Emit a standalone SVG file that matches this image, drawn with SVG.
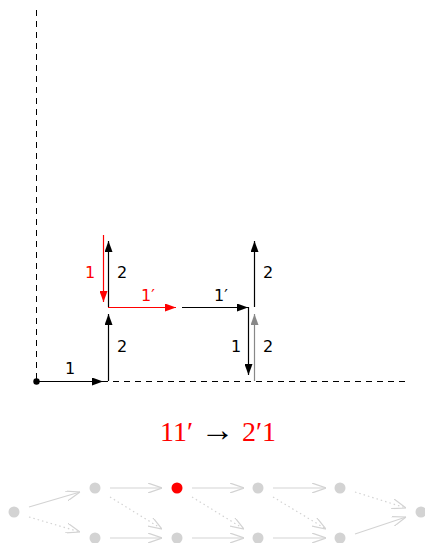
<svg xmlns="http://www.w3.org/2000/svg" width="425" height="543" viewBox="0 0 425 543">
<style>
.lbl{font-family:"DejaVu Sans","Liberation Sans",sans-serif;font-size:16px;text-anchor:middle}
.fm{font-family:"Liberation Serif","DejaVu Serif",serif;font-size:28px}
.ax{stroke:#000;stroke-width:1;stroke-dasharray:6,5;fill:none}
.e{stroke-width:1.2;fill:none}
.g{stroke:#d3d3d3;stroke-width:1.2;fill:none}
.gd{stroke:#d3d3d3;stroke-width:1.2;fill:none;stroke-dasharray:1.5,3}
.n{fill:#d3d3d3}
</style>
<defs>
<marker id="ab" viewBox="0 0 11 8" refX="11" refY="4" markerWidth="11" markerHeight="8" markerUnits="userSpaceOnUse" orient="auto"><path d="M0,0 L11,4 L0,8 z" fill="#000"/></marker>
<marker id="ar" viewBox="0 0 11 8" refX="11" refY="4" markerWidth="11" markerHeight="8" markerUnits="userSpaceOnUse" orient="auto"><path d="M0,0 L11,4 L0,8 z" fill="#f00"/></marker>
<marker id="ag" viewBox="0 0 11 8" refX="11" refY="4" markerWidth="11" markerHeight="8" markerUnits="userSpaceOnUse" orient="auto"><path d="M0,0 L11,4 L0,8 z" fill="#888"/></marker>
<marker id="ao" viewBox="0 0 14 10" refX="14" refY="5" markerWidth="14" markerHeight="10" markerUnits="userSpaceOnUse" orient="auto"><path d="M0,0 L14,5 L0,10" fill="none" stroke="#d3d3d3" stroke-width="1.2"/></marker>
</defs>
<g id="axes">
<line class="ax" x1="36.5" y1="10" x2="36.5" y2="381"/>
<line class="ax" x1="36" y1="381.5" x2="408" y2="381.5"/>
<circle cx="36.5" cy="381.5" r="3.2" fill="#000"/>
</g>
<g id="connectors">
<line class="e" stroke="#000" x1="36" y1="381.5" x2="103" y2="381.5" marker-end="url(#ab)"/>
<line class="e" stroke="#000" x1="108.5" y1="381" x2="108.5" y2="314" marker-end="url(#ab)"/>
<line class="e" stroke="#000" x1="108.5" y1="307" x2="108.5" y2="241" marker-end="url(#ab)"/>
<line class="e" stroke="#f00" x1="103.5" y1="235" x2="103.5" y2="302" marker-end="url(#ar)"/>
<line class="e" stroke="#f00" x1="108" y1="307.5" x2="176" y2="307.5" marker-end="url(#ar)"/>
<line class="e" stroke="#000" x1="182" y1="307.5" x2="248" y2="307.5" marker-end="url(#ab)"/>
<line class="e" stroke="#000" x1="248.5" y1="307" x2="248.5" y2="375" marker-end="url(#ab)"/>
<line class="e" stroke="#888" x1="254.5" y1="381" x2="254.5" y2="314" marker-end="url(#ag)"/>
<line class="e" stroke="#000" x1="254.5" y1="307" x2="254.5" y2="241" marker-end="url(#ab)"/>
</g>
<g id="labels">
<text class="lbl" x="70" y="374">1</text>
<text class="lbl" x="122" y="352">2</text>
<text class="lbl" x="122" y="278">2</text>
<text class="lbl" x="90" y="278" fill="#f00">1</text>
<text class="lbl" x="148" y="301" fill="#f00">1′</text>
<text class="lbl" x="221" y="301">1′</text>
<text class="lbl" x="236" y="352">1</text>
<text class="lbl" x="268" y="352">2</text>
<text class="lbl" x="268" y="278">2</text>
</g>
<g id="formula">
<text class="fm" x="160" y="441" fill="#f00">11′</text>
<text x="217.5" y="441" font-family="'Liberation Serif','DejaVu Serif',serif" font-size="34" text-anchor="middle" fill="#000">→</text>
<text class="fm" x="276" y="441" fill="#f00" text-anchor="end">2′1</text>
</g>
<g id="graph-edges">
<line class="g" x1="29" y1="507" x2="80" y2="492" marker-end="url(#ao)"/>
<line class="gd" x1="29" y1="517" x2="80" y2="532" marker-end="url(#ao)"/>
<line class="g" x1="110" y1="488" x2="162" y2="488" marker-end="url(#ao)"/>
<line class="gd" x1="110" y1="497" x2="162" y2="529" marker-end="url(#ao)"/>
<line class="g" x1="110" y1="538" x2="162" y2="538" marker-end="url(#ao)"/>
<line class="g" x1="192" y1="488" x2="244" y2="488" marker-end="url(#ao)"/>
<line class="gd" x1="192" y1="497" x2="244" y2="529" marker-end="url(#ao)"/>
<line class="g" x1="192" y1="538" x2="244" y2="538" marker-end="url(#ao)"/>
<line class="g" x1="273" y1="488" x2="326" y2="488" marker-end="url(#ao)"/>
<line class="gd" x1="273" y1="497" x2="326" y2="529" marker-end="url(#ao)"/>
<line class="g" x1="273" y1="538" x2="326" y2="538" marker-end="url(#ao)"/>
<line class="gd" x1="355" y1="492" x2="406" y2="508" marker-end="url(#ao)"/>
<line class="g" x1="355" y1="534" x2="406" y2="517" marker-end="url(#ao)"/>
</g>
<g id="n0"><circle class="n" cx="14" cy="512" r="5.5"/></g>
<g id="n1"><circle class="n" cx="95" cy="488" r="5.5"/></g>
<g id="n2"><circle cx="177" cy="488" r="5.5" fill="#f00"/></g>
<g id="n3"><circle class="n" cx="258" cy="488" r="5.5"/></g>
<g id="n4"><circle class="n" cx="340" cy="488" r="5.5"/></g>
<g id="n5"><circle class="n" cx="421" cy="512" r="5.5"/></g>
<g id="n6"><circle class="n" cx="95" cy="538" r="5.5"/></g>
<g id="n7"><circle class="n" cx="177" cy="538" r="5.5"/></g>
<g id="n8"><circle class="n" cx="258" cy="538" r="5.5"/></g>
<g id="n9"><circle class="n" cx="340" cy="538" r="5.5"/></g>
</svg>
